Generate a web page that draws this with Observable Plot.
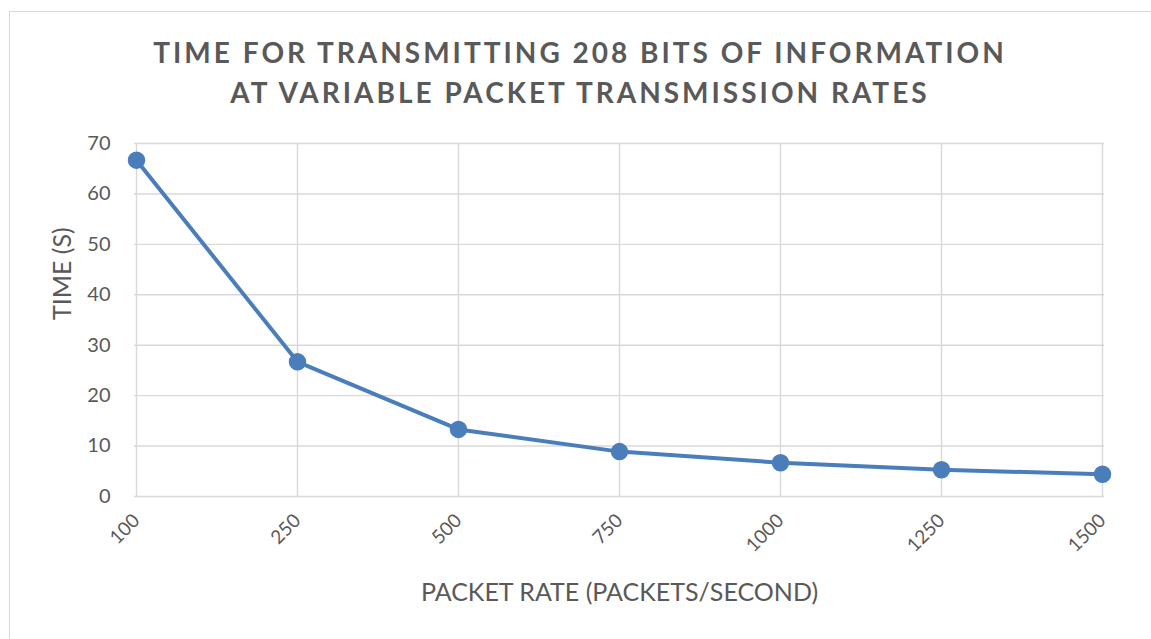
<!DOCTYPE html>
<html>
<head>
<meta charset="utf-8">
<script src="https://cdn.jsdelivr.net/npm/d3@7"></script>
<script src="https://cdn.jsdelivr.net/npm/@observablehq/plot@0.6"></script>
<style>
  html, body { margin: 0; padding: 0; background: #fff; }
  #wrap { position: relative; width: 1151px; height: 639px; overflow: hidden; }
  #border { position: absolute; left: 9px; top: 11px; width: 1160px; height: 640px; border: 1.5px solid #d9d9d9; box-sizing: border-box; }
  #title { position: absolute; left: 0; top: 32px; width: 1160px; text-align: center;
    font-family: Lato, "Open Sans", sans-serif; font-weight: bold; font-size: 28px; line-height: 40px;
    letter-spacing: 3px; color: #595959; }
  #chart { position: absolute; left: 0; top: 0; }
</style>
</head>
<body>
<div id="wrap">
  <div id="border"></div>
  <div id="chart"></div>
  <div id="title">TIME FOR TRANSMITTING 208 BITS OF INFORMATION<br>AT VARIABLE PACKET TRANSMISSION RATES</div>
</div>
<script>
const categories = ["100", "250", "500", "750", "1000", "1250", "1500"];
const times = [66.7, 26.7, 13.3, 8.9, 6.7, 5.3, 4.4];
const yTicks = [0, 10, 20, 30, 40, 50, 60, 70];
const xLabel = "PACKET RATE (PACKETS/SECOND)";
const yLabel = "TIME (S)";

const data = categories.map((c, i) => ({rate: c, time: times[i]}));
const lineColor = "#4a7ebb";
const gridColor = "#d9d9d9";
const textColor = "#595959";

const chart = Plot.plot({
  width: 1151,
  height: 639,
  marginLeft: 134,
  marginRight: 47,
  marginTop: 143,
  marginBottom: 143,
  style: {fontFamily: "Lato, 'Open Sans', sans-serif", color: textColor, background: "transparent"},
  x: {type: "point", domain: categories, padding: 0, label: null},
  y: {domain: [0, 70], label: null},
  marks: [
    Plot.ruleY(yTicks, {stroke: gridColor, strokeWidth: 1.4}),
    Plot.ruleX(categories, {stroke: gridColor, strokeWidth: 1.4}),
    Plot.axisY({ticks: yTicks, tickSize: 0, tickPadding: 24, fontSize: 20, fill: textColor, label: null}),
    Plot.axisX({tickSize: 0, tickPadding: 21, tickRotate: -45, fontSize: 19, fill: textColor, label: null}),
    Plot.lineY(data, {x: "rate", y: "time", stroke: lineColor, strokeWidth: 4}),
    Plot.dot(data, {x: "rate", y: "time", r: 8, fill: lineColor, stroke: lineColor}),
    Plot.text([xLabel], {frameAnchor: "bottom", dy: 104, fontSize: 25, fill: textColor}),
    Plot.text([yLabel], {frameAnchor: "left", dx: -72, rotate: -90, fontSize: 25, fill: textColor})
  ]
});
document.getElementById("chart").appendChild(chart);
</script>
</body>
</html>
